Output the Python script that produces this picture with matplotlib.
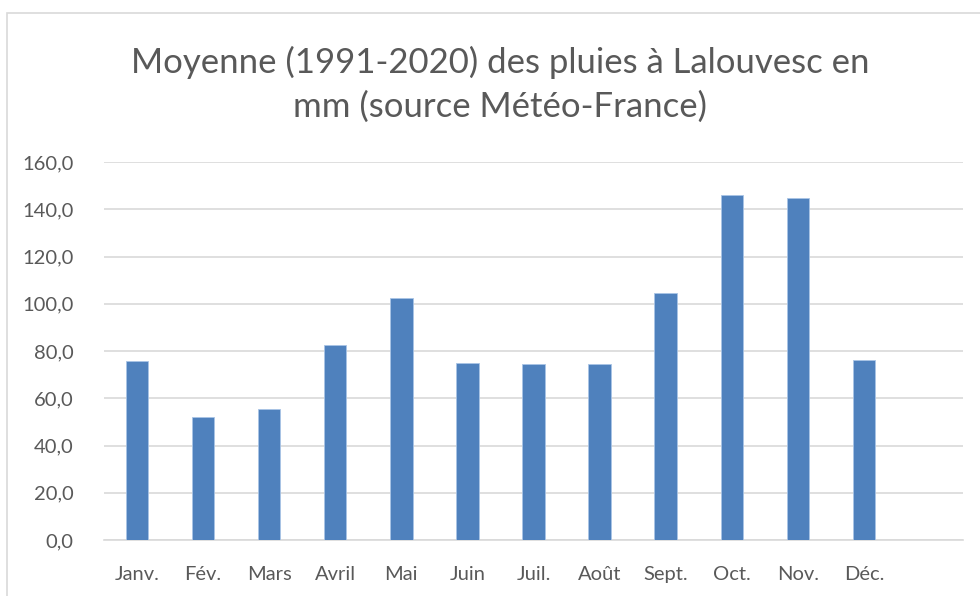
import matplotlib
matplotlib.use("Agg")
import matplotlib.pyplot as plt
from matplotlib.patches import Rectangle
from matplotlib.ticker import FuncFormatter

months = ["Janv.", "Fév.", "Mars", "Avril", "Mai", "Juin",
          "Juil.", "Août", "Sept.", "Oct.", "Nov.", "Déc."]
rain_mm = [75.6, 51.9, 55.4, 82.7, 102.6, 74.8,
           74.6, 74.6, 104.6, 145.9, 144.6, 76.3]
yticks = [0, 20, 40, 60, 80, 100, 120, 140, 160]

text_color = "#595959"
plt.rcParams["font.family"] = ["Lato", "DejaVu Sans"]

fig = plt.figure(figsize=(9.8, 5.96), dpi=100)
ax = fig.add_axes([0.1061, 0.094, 0.8766, 0.634])

# chart frame like Excel
fig.patches.append(Rectangle((7 / 980, -0.1), 1.1, 1 - 13 / 596 + 0.1,
                             transform=fig.transFigure, fill=False,
                             edgecolor="#d9d9d9", linewidth=1.2))

x = range(len(months))
ax.bar(x, rain_mm, width=0.34, color="#4f81bd", edgecolor="#a9c4e6",
       linewidth=0.6, zorder=3)

ax.set_xlim(-0.5, 12.5)
ax.set_ylim(0, 160)
ax.set_yticks(yticks)
ax.yaxis.set_major_formatter(FuncFormatter(lambda v, p: f"{v:.1f}".replace(".", ",")))
ax.set_xticks(list(x))
ax.set_xticklabels(months)

ax.grid(axis="y", color="#d9d9d9", linewidth=1.2, zorder=0)
for s in ["top", "right", "left"]:
    ax.spines[s].set_visible(False)
ax.spines["bottom"].set_color("#d9d9d9")
ax.spines["bottom"].set_linewidth(1.2)
ax.tick_params(axis="both", length=0, labelsize=14.5, colors=text_color)
ax.tick_params(axis="x", pad=19)
ax.tick_params(axis="y", pad=22)

fig.text(0.51, 0.858, "Moyenne (1991-2020) des pluies à Lalouvesc en\nmm (source Météo-France)",
         ha="center", va="center", fontsize=25, color=text_color, linespacing=1.45)

fig.savefig("out.png", dpi=100)
